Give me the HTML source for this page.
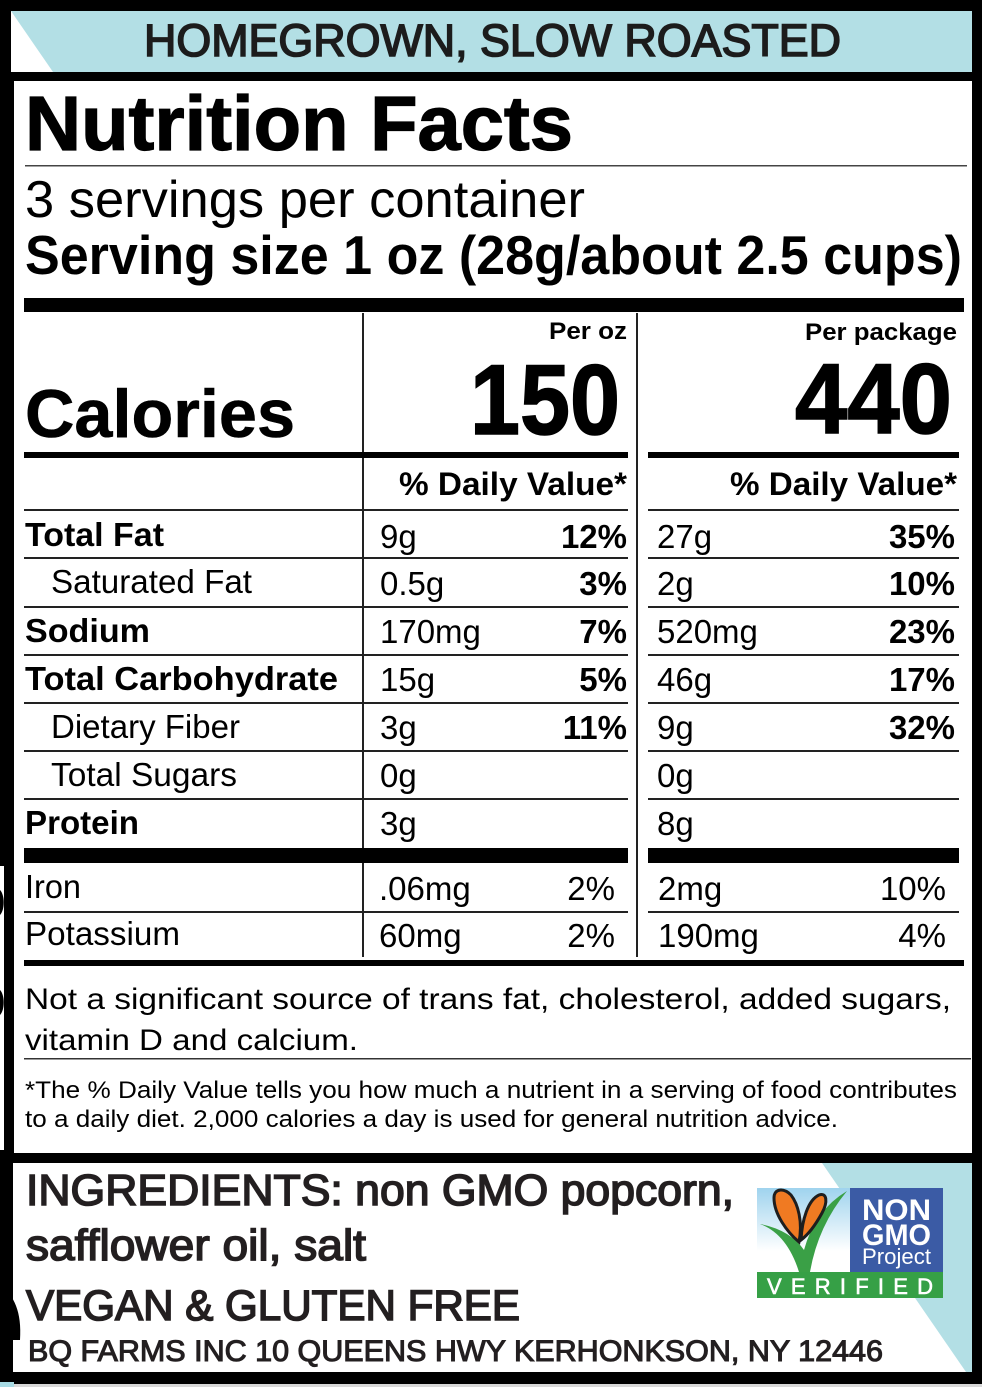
<!DOCTYPE html>
<html>
<head>
<meta charset="utf-8">
<style>
  html,body{margin:0;padding:0;background:#fff;}
  svg{display:block;}
  text{font-family:"Liberation Sans", Arial, sans-serif;}
</style>
</head>
<body>
<svg width="982" height="1387" viewBox="0 0 982 1387" xmlns="http://www.w3.org/2000/svg">
  <defs>
    <linearGradient id="sky" x1="0" y1="0" x2="0" y2="1">
      <stop offset="0" stop-color="#9fd3ee"/>
      <stop offset="0.75" stop-color="#ffffff"/>
      <stop offset="1" stop-color="#ffffff"/>
    </linearGradient>
  </defs>

  <!-- frame -->
  <rect x="0" y="0" width="982" height="1387" fill="#000"/>

  <!-- header band -->
  <rect x="11" y="11" width="961" height="61" fill="#b3dfe5"/>
  <polygon points="11,11 53,72 11,72" fill="#fff"/>
  <text x="144" y="56" font-size="45" fill="#1c1c1c" stroke="#1c1c1c" stroke-width="1.6" textLength="697" lengthAdjust="spacingAndGlyphs">HOMEGROWN, SLOW ROASTED</text>

  <!-- main white panel -->
  <rect x="14" y="81" width="958" height="1072" fill="#fff"/>
  <rect x="0" y="866" width="4" height="284" fill="#fff"/>
  <path d="M0,890 C5,895 5,910 0,915 Z M0,990 C5,995 5,1010 0,1015 Z" fill="#000"/>

  <!-- title -->
  <text x="25" y="150" font-size="77" font-weight="bold" fill="#000" stroke="#000" stroke-width="1.2" textLength="548" lengthAdjust="spacingAndGlyphs">Nutrition Facts</text>
  <rect x="25" y="165" width="942" height="1.5" fill="#444"/>
  <text x="25" y="217" font-size="52" fill="#000" textLength="560" lengthAdjust="spacingAndGlyphs">3 servings per container</text>
  <text x="25" y="274" font-size="55" font-weight="bold" fill="#000" textLength="937" lengthAdjust="spacingAndGlyphs">Serving size 1 oz (28g/about 2.5 cups)</text>

  <!-- thick bar -->
  <rect x="24" y="298" width="940" height="14" fill="#000"/>

  <!-- vertical lines -->
  <rect x="362" y="313" width="2" height="644" fill="#222"/>
  <rect x="636" y="313" width="2" height="644" fill="#222"/>

  <!-- calories -->
  <text x="25" y="437" font-size="68" font-weight="bold" fill="#000" stroke="#000" stroke-width="0.6" textLength="270" lengthAdjust="spacingAndGlyphs">Calories</text>
  <text x="549" y="339" font-size="24" font-weight="bold" fill="#000" textLength="78" lengthAdjust="spacingAndGlyphs">Per oz</text>
  <text x="805" y="340" font-size="24" font-weight="bold" fill="#000" textLength="152" lengthAdjust="spacingAndGlyphs">Per package</text>
  <text x="470" y="434" font-size="99" font-weight="bold" fill="#000" stroke="#000" stroke-width="1.5" textLength="150" lengthAdjust="spacingAndGlyphs">150</text>
  <text x="795" y="433" font-size="99" font-weight="bold" fill="#000" stroke="#000" stroke-width="1.5" textLength="157" lengthAdjust="spacingAndGlyphs">440</text>
  <rect x="24" y="452" width="604" height="6" fill="#000"/>
  <rect x="648" y="452" width="311" height="6" fill="#000"/>

  <text x="399" y="495" font-size="32" font-weight="bold" fill="#000" textLength="228" lengthAdjust="spacingAndGlyphs">% Daily Value*</text>
  <text x="730" y="495" font-size="32" font-weight="bold" fill="#000" textLength="227" lengthAdjust="spacingAndGlyphs">% Daily Value*</text>

  <!-- row lines -->
  <g fill="#222">
    <rect x="24" y="509" width="604" height="2"/><rect x="648" y="509" width="311" height="2"/>
    <rect x="24" y="557" width="604" height="2"/><rect x="648" y="557" width="311" height="2"/>
    <rect x="24" y="606" width="604" height="2"/><rect x="648" y="606" width="311" height="2"/>
    <rect x="24" y="654" width="604" height="2"/><rect x="648" y="654" width="311" height="2"/>
    <rect x="24" y="702" width="604" height="2"/><rect x="648" y="702" width="311" height="2"/>
    <rect x="24" y="750" width="604" height="2"/><rect x="648" y="750" width="311" height="2"/>
    <rect x="24" y="798" width="604" height="2"/><rect x="648" y="798" width="311" height="2"/>
    <rect x="24" y="911" width="604" height="2"/><rect x="648" y="911" width="311" height="2"/>
  </g>
  <rect x="24" y="848" width="604" height="15" fill="#000"/>
  <rect x="648" y="848" width="311" height="15" fill="#000"/>
  <rect x="24" y="960" width="940" height="6" fill="#000"/>

  <!-- labels -->
  <g font-size="33" fill="#000">
    <text x="25" y="546" font-weight="bold" textLength="139" lengthAdjust="spacingAndGlyphs">Total Fat</text>
    <text x="51" y="593" textLength="201" lengthAdjust="spacingAndGlyphs">Saturated Fat</text>
    <text x="25" y="642" font-weight="bold" textLength="125" lengthAdjust="spacingAndGlyphs">Sodium</text>
    <text x="25" y="690" font-weight="bold" textLength="313" lengthAdjust="spacingAndGlyphs">Total Carbohydrate</text>
    <text x="51" y="738" textLength="189" lengthAdjust="spacingAndGlyphs">Dietary Fiber</text>
    <text x="51" y="786" textLength="186" lengthAdjust="spacingAndGlyphs">Total Sugars</text>
    <text x="25" y="834" font-weight="bold" textLength="114" lengthAdjust="spacingAndGlyphs">Protein</text>
    <text x="25" y="898" textLength="56" lengthAdjust="spacingAndGlyphs">Iron</text>
    <text x="25" y="945" textLength="155" lengthAdjust="spacingAndGlyphs">Potassium</text>
  </g>

  <!-- values col 1 -->
  <g font-size="33" fill="#000">
    <text x="380" y="548">9g</text>
    <text x="380" y="595">0.5g</text>
    <text x="380" y="643">170mg</text>
    <text x="380" y="691">15g</text>
    <text x="380" y="739">3g</text>
    <text x="380" y="787">0g</text>
    <text x="380" y="835">3g</text>
    <text x="379" y="900">.06mg</text>
    <text x="379" y="947">60mg</text>
  </g>
  <g font-size="33" font-weight="bold" fill="#000" text-anchor="end">
    <text x="627" y="548">12%</text>
    <text x="627" y="595">3%</text>
    <text x="627" y="643">7%</text>
    <text x="627" y="691">5%</text>
    <text x="627" y="739">11%</text>
  </g>
  <g font-size="33" fill="#000" text-anchor="end">
    <text x="615" y="900">2%</text>
    <text x="615" y="947">2%</text>
  </g>

  <!-- values col 2 -->
  <g font-size="33" fill="#000">
    <text x="657" y="548">27g</text>
    <text x="657" y="595">2g</text>
    <text x="657" y="643">520mg</text>
    <text x="657" y="691">46g</text>
    <text x="657" y="739">9g</text>
    <text x="657" y="787">0g</text>
    <text x="657" y="835">8g</text>
    <text x="658" y="900">2mg</text>
    <text x="658" y="947">190mg</text>
  </g>
  <g font-size="33" font-weight="bold" fill="#000" text-anchor="end">
    <text x="955" y="548">35%</text>
    <text x="955" y="595">10%</text>
    <text x="955" y="643">23%</text>
    <text x="955" y="691">17%</text>
    <text x="955" y="739">32%</text>
  </g>
  <g font-size="33" fill="#000" text-anchor="end">
    <text x="946" y="900">10%</text>
    <text x="946" y="947">4%</text>
  </g>

  <!-- footnotes -->
  <text x="25" y="1009" font-size="30" fill="#000" textLength="926" lengthAdjust="spacingAndGlyphs">Not a significant source of trans fat, cholesterol, added sugars,</text>
  <text x="25" y="1050" font-size="30" fill="#000" textLength="333" lengthAdjust="spacingAndGlyphs">vitamin D and calcium.</text>
  <rect x="24" y="1058" width="947" height="1.5" fill="#333"/>
  <text x="25" y="1098" font-size="24.5" fill="#000" textLength="932" lengthAdjust="spacingAndGlyphs">*The % Daily Value tells you how much a nutrient in a serving of food contributes</text>
  <text x="25" y="1127" font-size="24.5" fill="#000" textLength="813" lengthAdjust="spacingAndGlyphs">to a daily diet. 2,000 calories a day is used for general nutrition advice.</text>

  <!-- ingredients panel -->
  <rect x="13" y="1163" width="959" height="209" fill="#fff"/>
  <polygon points="822,1163 972,1163 972,1372 966,1372" fill="#b3dfe5"/>
  <path d="M0,1285 C14,1295 22,1312 20,1340 L13,1340 L13,1300 L0,1296 Z" fill="#000"/>
  <rect x="0" y="1384" width="982" height="3" fill="#d8d8d8"/>
  <rect x="0" y="1382" width="14" height="5" fill="#a8dbe4"/>

  <g fill="#231f20" stroke="#231f20" stroke-width="1.6">
    <text x="26" y="1205" font-size="44" textLength="708" lengthAdjust="spacingAndGlyphs">INGREDIENTS: non GMO popcorn,</text>
    <text x="26" y="1260" font-size="44" textLength="340" lengthAdjust="spacingAndGlyphs">safflower oil, salt</text>
    <text x="26" y="1320" font-size="43" textLength="494" lengthAdjust="spacingAndGlyphs">VEGAN &amp; GLUTEN FREE</text>
    <text x="28" y="1361" font-size="30" stroke-width="1.1" textLength="855" lengthAdjust="spacingAndGlyphs">BQ FARMS INC 10 QUEENS HWY KERHONKSON, NY 12446</text>
  </g>

  <!-- Non GMO logo -->
  <rect x="757" y="1188" width="93" height="84" fill="url(#sky)"/>
  <rect x="850" y="1188" width="93" height="84" fill="#3b5ba5"/>
  <rect x="757" y="1272" width="186" height="26" fill="#36a046"/>
  <path d="M760,1224 Q787,1234 799,1272 L810,1272 Q818,1226 847,1191 Q815,1210 804,1250 Q790,1230 760,1224 Z" fill="#3aa046"/>
  <path d="M799,1242 C787,1232 774,1214 774,1198 C774,1188 784,1188 791,1195 C798,1204 803,1222 799,1242 Z" fill="#f07a22" stroke="#1e1e1e" stroke-width="3"/>
  <path d="M801,1240 C802,1220 808,1200 819,1195 C827,1192 828,1202 822,1213 C816,1224 809,1234 801,1240 Z" fill="#f07a22" stroke="#1e1e1e" stroke-width="3"/>
  <text x="862" y="1220" font-size="30" font-weight="bold" fill="#fff" textLength="69" lengthAdjust="spacingAndGlyphs">NON</text>
  <text x="862" y="1245" font-size="30" font-weight="bold" fill="#fff" textLength="69" lengthAdjust="spacingAndGlyphs">GMO</text>
  <text x="862" y="1264" font-size="22" fill="#fff" textLength="69" lengthAdjust="spacingAndGlyphs">Project</text>
  <text x="767" y="1294" font-size="22" fill="#fff" stroke="#fff" stroke-width="0.6" textLength="166" lengthAdjust="spacing">VERIFIED</text>
</svg>
</body>
</html>
